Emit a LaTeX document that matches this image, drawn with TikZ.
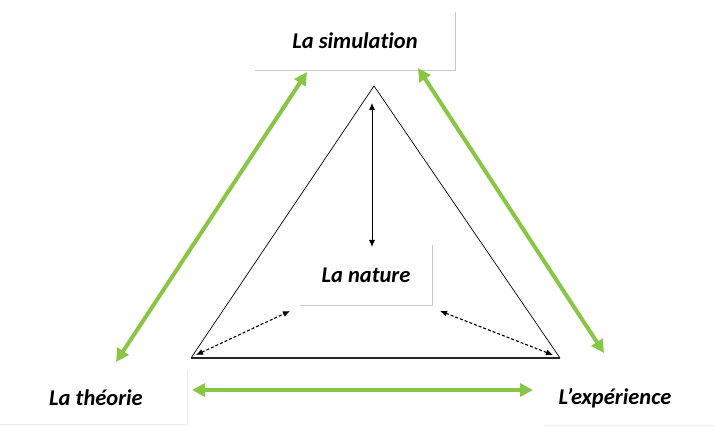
\documentclass[tikz,border=0pt]{standalone}
\usepackage{fontspec}
\setmainfont{Carlito}[Ligatures=NoCommon]
\usetikzlibrary{arrows.meta}
\definecolor{leaf}{RGB}{138,198,70}

\begin{document}
\begin{tikzpicture}[
  x=1pt, y=-1pt,
  every node/.style={inner sep=0pt},
  lbl/.style={font=\fontsize{22.5}{26}\selectfont\bfseries\itshape},
  frm/.style={draw=black!22, line width=1pt},
  edge/.style={draw=black, line width=0.7pt},
  base/.style={draw=black!85, line width=1.6pt},
  dbl/.style={{Latex[length=7pt,width=6pt]}-{Latex[length=7pt,width=6pt]}, draw=black, line width=0.9pt},
  dsh/.style={dbl, densely dashed, line width=1.1pt},
  grn/.style={{Triangle[length=13pt,width=13pt]}-{Triangle[length=13pt,width=13pt]}, draw=leaf, line width=4pt},
]
  \useasboundingbox (0,0) rectangle (715,427);
  % labels
  \node[lbl, minimum width=200pt, minimum height=58pt] (sim) at (355,41) {La simulation};
  \node[lbl, minimum width=132pt, minimum height=60pt] (nat) at (366,275) {La nature};
  \node[lbl] (theo) at (96,398) {La théorie};
  \node[lbl] (exp) at (615,398) {L’expérience};
  \draw[frm] (sim.south west) -- (sim.south east) -- (sim.north east);
  \draw[frm] (nat.south west) -- (nat.south east) -- (nat.north east);
  \draw[draw=black!8, line width=1pt] (0,425) -- (187,425) -- (187,370);
  \draw[draw=black!8, line width=1pt] (545,426) -- (715,426);
  % triangle
  \coordinate (top) at (374,86);
  \coordinate (bl) at (191,358);
  \coordinate (br) at (560,358);
  \draw[edge] (bl) -- (top) -- (br);
  \draw[base] (bl) -- (br);
  % arrows to nature
  \coordinate (v1) at (372,103);
  \coordinate (v2) at (372,247);
  \coordinate (l1) at (196,355);
  \coordinate (l2) at (290,311);
  \coordinate (r1) at (440,311);
  \coordinate (r2) at (553,355);
  \draw[dbl] (v1) -- (v2);
  \draw[dsh] (l1) -- (l2);
  \draw[dsh] (r1) -- (r2);
  % green links
  \coordinate (g1) at (307,72);
  \coordinate (g2) at (116,362);
  \coordinate (g3) at (418,68);
  \coordinate (g4) at (604,353);
  \coordinate (g5) at (192,390);
  \coordinate (g6) at (533,390);
  \draw[grn] (g1) -- (g2);
  \draw[grn] (g3) -- (g4);
  \draw[grn] (g5) -- (g6);
\end{tikzpicture}
\end{document}
